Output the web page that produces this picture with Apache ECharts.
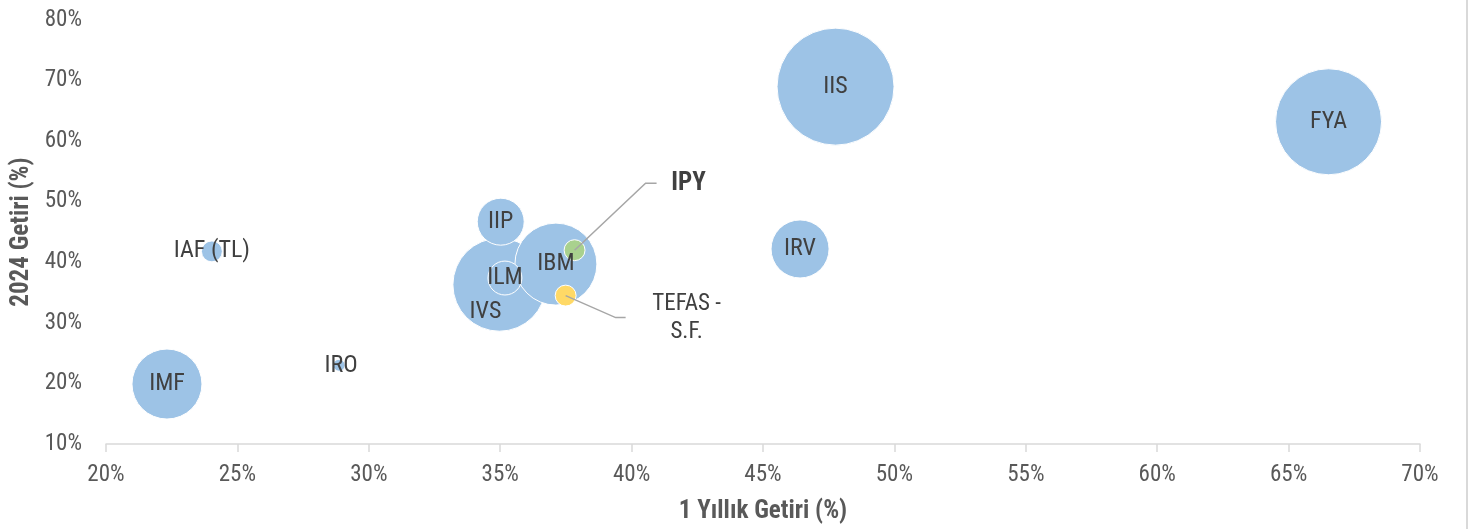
<!DOCTYPE html>
<html>
<head>
<meta charset="utf-8">
<script src="https://cdn.jsdelivr.net/npm/echarts@6/dist/echarts.min.js"></script>
<style>
html,body{margin:0;padding:0;background:#fff;}
#c{width:1481px;height:529px;}
</style>
</head>
<body>
<div id="c"></div>
<script>
// Fund codes
var names = ['IIS','FYA','IVS','IBM','IMF','IRV','IIP','ILM','IPY','TEFAS - S.F.','IAF (TL)','IRO'];
// 1-year return (%)
var oneYear = [47.76, 66.52, 34.97, 37.12, 22.32, 46.41, 35.02, 35.18, 37.83, 37.49, 24.03, 28.87];
// 2024 return (%)
var ytd2024 = [69.0, 63.2, 36.3, 39.7, 19.9, 42.2, 46.7, 37.4, 42.0, 34.5, 41.8, 23.0];
// bubble size (relative)
var bubbleSize = [100, 82.1, 63.2, 49.1, 35.8, 24.6, 16.1, 8.4, 3.2, 3.2, 3.2, 1.05];
// axis tick labels
var xTicks = ['20%','25%','30%','35%','40%','45%','50%','55%','60%','65%','70%'];
var yTicks = ['10%','20%','30%','40%','50%','60%','70%','80%'];

var BLUE = '#9dc3e6', GREEN = '#a9d18e', YELLOW = '#ffd966';
var labelFont = "'Liberation Sans Narrow','Roboto Condensed','Liberation Sans',sans-serif";

var data = names.map(function(n, i){
  var d = {name: n, value: [oneYear[i], ytd2024[i], bubbleSize[i]]};
  var col = BLUE;
  var lbl = {show: true};
  if (n === 'IPY') { col = GREEN; lbl = {show: false}; }
  else if (n === 'TEFAS - S.F.') { col = YELLOW; lbl = {show: false}; }
  else if (n === 'IVS') { lbl = {show: true, offset: [-14, 27]}; }
  else if (n === 'IRO') { lbl = {show: true, offset: [2, 1]}; }
  d.itemStyle = {color: col};
  d.label = lbl;
  return d;
});
// larger bubbles drawn first
data.sort(function(a, b){ return b.value[2] - a.value[2]; });

var chart = echarts.init(document.getElementById('c'), null, {renderer: 'canvas'});
var option = {
  animation: false,
  backgroundColor: '#ffffff',
  grid: {left: 106, right: 61, top: 20, bottom: 83, containLabel: false},
  xAxis: {
    type: 'value', min: 20, max: 70, interval: 5,
    name: '1 Yıllık Getiri (%)', nameLocation: 'middle', nameGap: 55,
    nameTextStyle: {fontFamily: labelFont, fontWeight: 'bold', fontSize: 25, color: '#595959'},
    axisLine: {show: true, lineStyle: {color: '#d9d9d9', width: 1.5}},
    axisTick: {show: true, length: 8, lineStyle: {color: '#d9d9d9', width: 1.5}},
    splitLine: {show: false},
    axisLabel: {
      margin: 20, fontFamily: labelFont, fontSize: 23, color: '#595959',
      formatter: function(v){ var s = v + '%'; return xTicks.indexOf(s) >= 0 ? s : ''; }
    }
  },
  yAxis: {
    type: 'value', min: 10, max: 80, interval: 10,
    name: '2024 Getiri (%)', nameLocation: 'middle', nameGap: 72,
    nameTextStyle: {fontFamily: labelFont, fontWeight: 'bold', fontSize: 25, color: '#595959'},
    axisLine: {show: false}, axisTick: {show: false}, splitLine: {show: false},
    axisLabel: {
      margin: 24, fontFamily: labelFont, fontSize: 23, color: '#595959',
      formatter: function(v){ var s = v + '%'; return yTicks.indexOf(s) >= 0 ? s : ''; }
    }
  },
  series: [{
    type: 'scatter',
    data: data,
    symbol: 'circle',
    symbolSize: function(v){ return 117 * Math.sqrt(v[2] / 100); },
    itemStyle: {borderColor: '#ffffff', borderWidth: 1, opacity: 1},
    label: {
      position: 'inside', formatter: '{b}',
      fontFamily: labelFont, fontSize: 24, color: '#404040'
    },
    emphasis: {disabled: true}
  }]
};
chart.setOption(option);

function px(name){
  var i = names.indexOf(name);
  return chart.convertToPixel({gridIndex: 0}, [oneYear[i], ytd2024[i]]);
}
var p1 = px('IPY'), p2 = px('TEFAS - S.F.');
var g = [
  {type: 'line', shape: {x1: 1467, y1: 0, x2: 1467, y2: 529}, style: {stroke: '#d9d9d9', lineWidth: 2}, z: 10},
  {type: 'polyline', shape: {points: [[p1[0], p1[1]], [p1[0] + 71, p1[1] - 67], [p1[0] + 82, p1[1] - 67]]},
   style: {stroke: '#a6a6a6', lineWidth: 1.5, fill: null}, z: 10},
  {type: 'text', x: p1[0] + 114, y: p1[1] - 66,
   style: {text: 'IPY', font: "bold 25px " + labelFont, fill: '#404040', align: 'center', verticalAlign: 'middle'}, z: 10},
  {type: 'polyline', shape: {points: [[p2[0], p2[1]], [p2[0] + 50, p2[1] + 22], [p2[0] + 60, p2[1] + 22]]},
   style: {stroke: '#a6a6a6', lineWidth: 1.5, fill: null}, z: 10},
  {type: 'text', x: p2[0] + 121, y: p2[1] + 23,
   style: {text: 'TEFAS -\nS.F.', font: "23px " + labelFont, lineHeight: 28, fill: '#404040', align: 'center', verticalAlign: 'middle'}, z: 10}
];
chart.setOption({graphic: g});
</script>
</body>
</html>
